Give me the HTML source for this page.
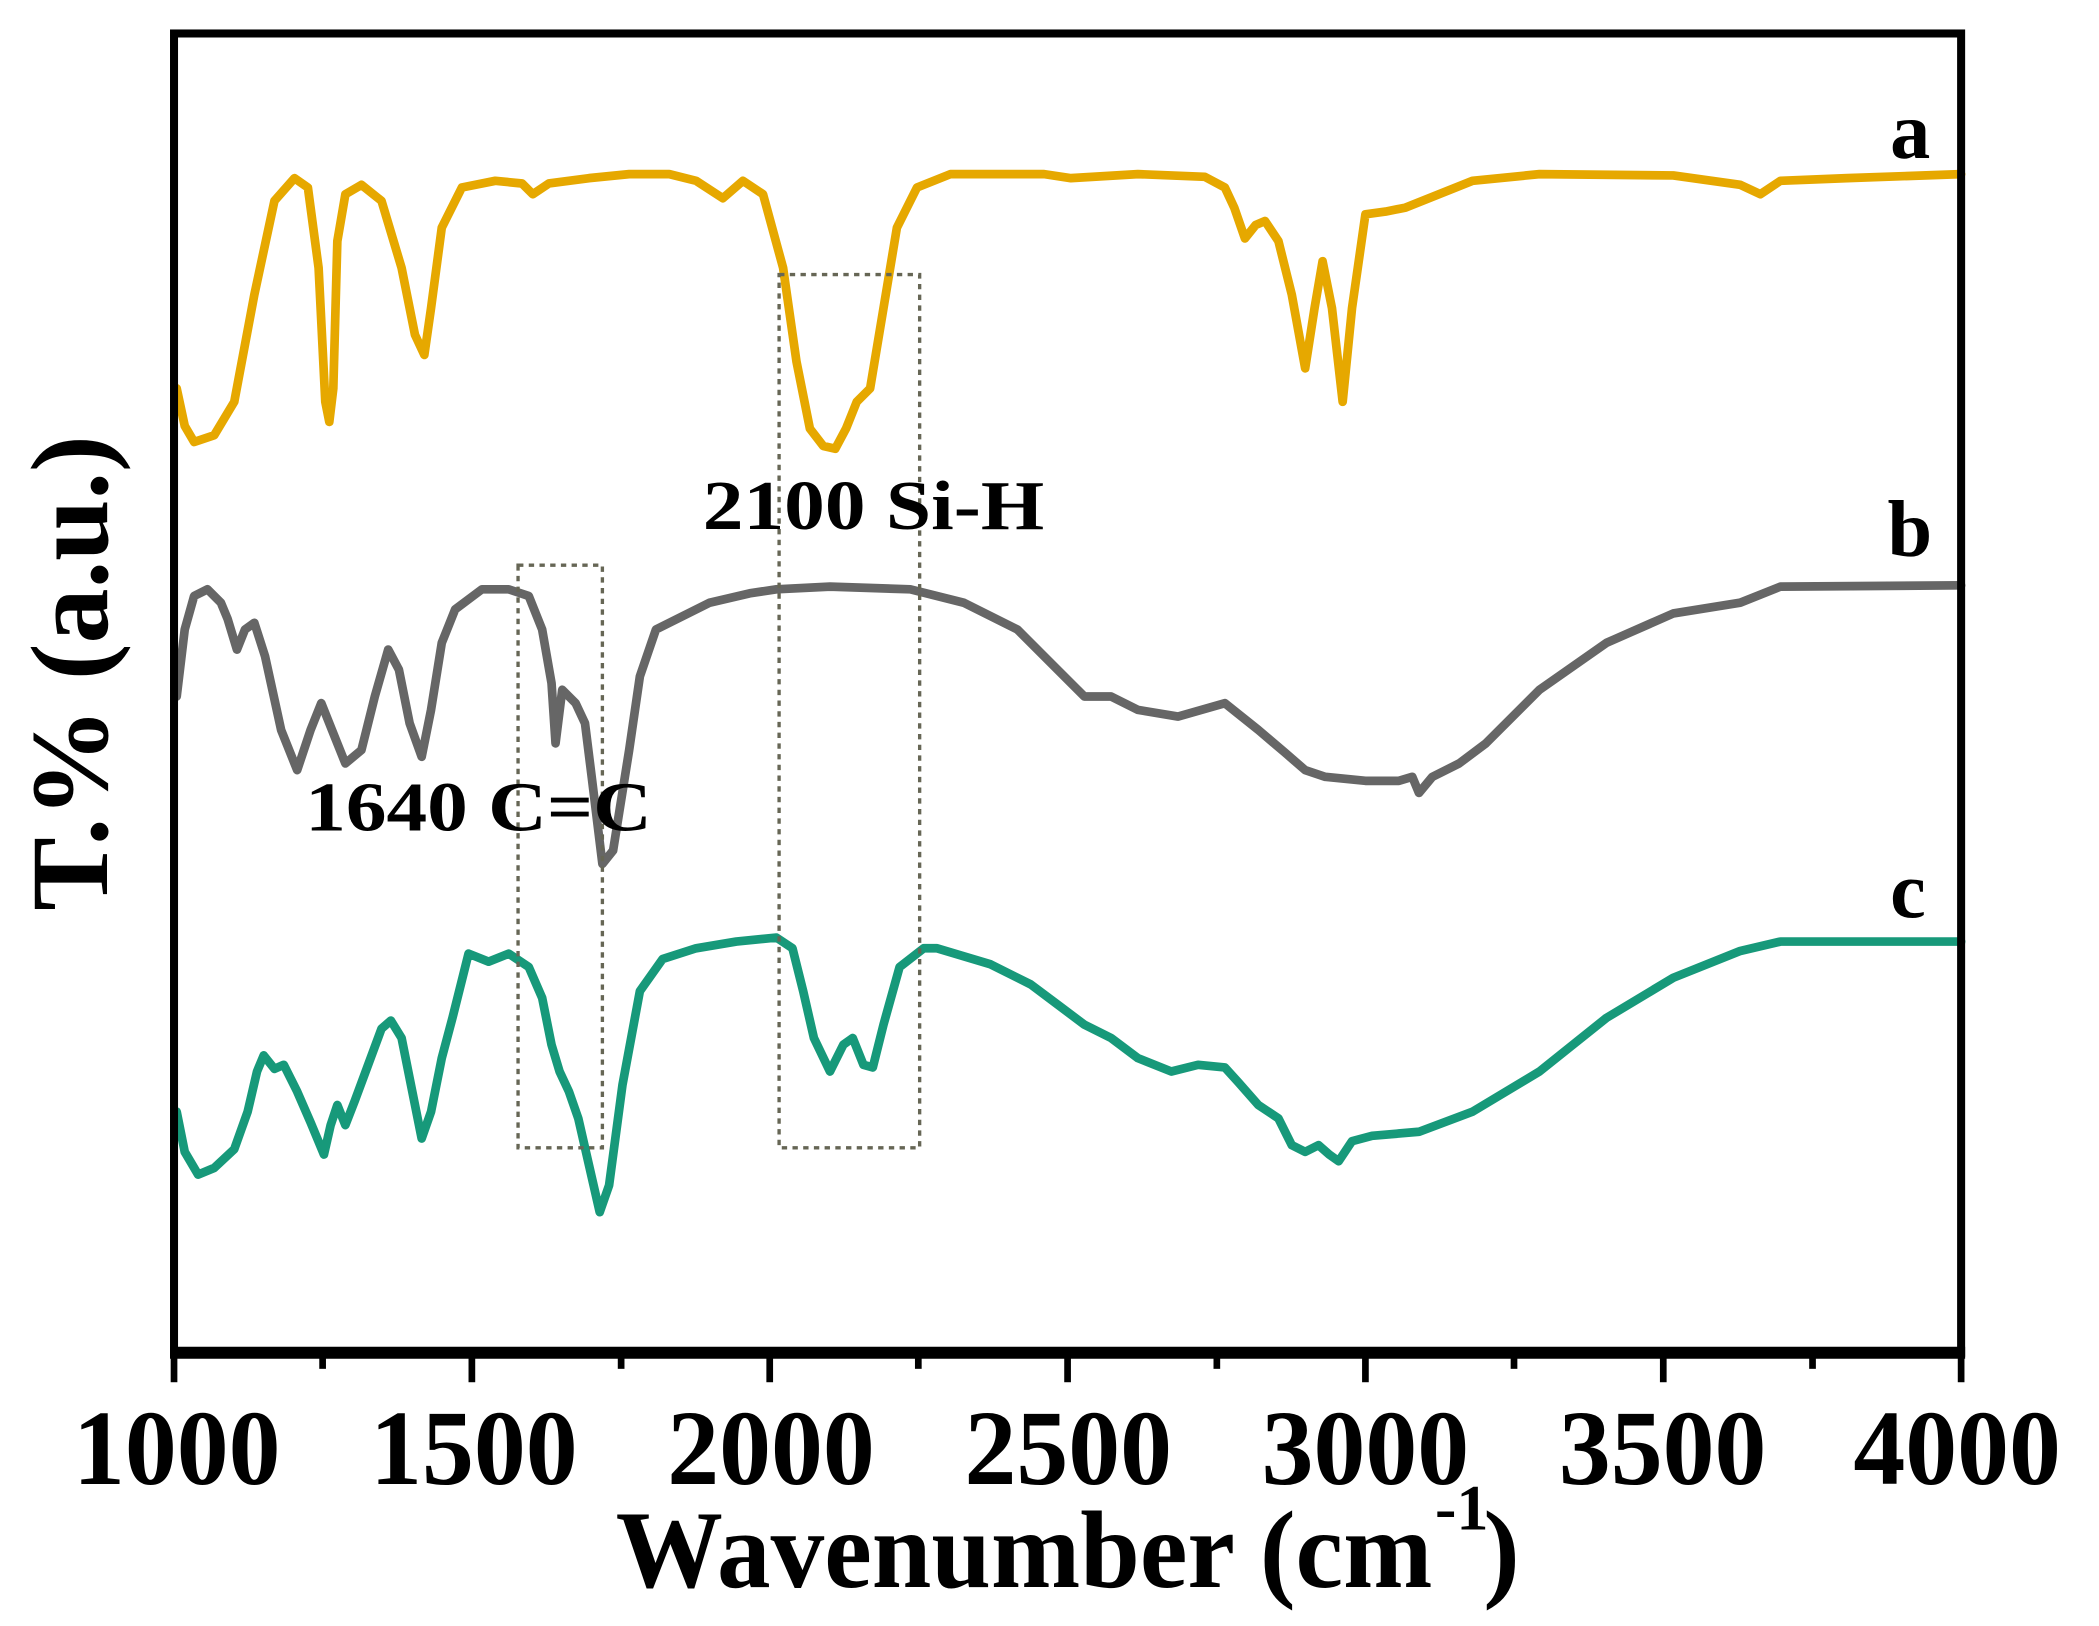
<!DOCTYPE html>
<html><head><meta charset="utf-8"><style>html,body{margin:0;padding:0;background:#fff}svg{display:block}</style></head>
<body>
<svg width="2099" height="1626" viewBox="0 0 1568 1214" preserveAspectRatio="none" xmlns="http://www.w3.org/2000/svg">
<rect width="1568" height="1214" fill="#fff"/>
<g fill="none" stroke-linejoin="round" stroke-linecap="round" stroke-width="6.5">
<polyline stroke="#E6A800" points="132,290 138,318 145,330 160,325 175,300 190,220 205,150 220,133 230,140 238,200 243,300 246,315 249,290 252,180 258,145 270,138 285,150 300,200 310,250 317,265 322,230 330,170 345,140 370,135 390,137 398,145 410,137 440,133 470,130 500,130 520,135 540,148 555,135 570,145 585,200 595,270 605,320 615,333 624,335 632,320 640,300 650,290 660,230 670,170 685,140 710,130 780,130 800,133 850,130 900,132 915,140 922,155 930,178 938,168 945,165 955,180 965,220 975,275 982,230 988,195 995,230 1003,300 1010,230 1020,160 1035,158 1050,155 1075,145 1100,135 1150,130 1250,131 1300,138 1315,145 1330,135 1380,133 1465,130"/>
<polyline stroke="#666666" points="132,520 138,470 145,445 155,440 165,450 170,462 177,485 183,470 190,465 198,490 210,545 222,575 232,545 240,525 248,545 258,570 270,560 280,520 290,485 298,500 306,540 315,565 322,530 330,480 340,455 360,440 380,440 395,445 405,470 412,510 415,555 420,515 430,525 437,540 442,580 450,645 458,635 462,610 470,560 478,505 490,470 510,460 530,450 560,443 580,440 620,438 680,440 720,450 760,470 790,500 810,520 830,520 850,530 880,535 915,525 940,545 960,562 975,575 990,580 1020,583 1045,583 1055,580 1060,592 1070,580 1090,570 1110,555 1150,515 1200,480 1250,458 1300,450 1330,438 1465,437"/>
<polyline stroke="#17997A" points="132,830 138,860 148,877 160,872 175,858 185,830 192,800 197,788 205,798 212,795 222,815 232,838 242,862 247,840 252,825 258,840 265,822 275,795 285,768 292,762 300,775 308,815 315,850 322,830 330,790 338,760 350,712 365,718 380,712 395,722 405,745 412,780 418,800 425,815 432,835 440,870 448,905 455,885 465,810 478,740 495,716 520,708 550,703 580,700 592,708 600,740 608,775 620,800 630,780 637,775 645,795 652,797 660,765 672,722 690,708 700,708 740,720 770,735 790,750 810,765 830,775 850,790 875,800 895,795 915,797 925,808 940,825 955,835 965,855 975,860 985,855 993,862 1000,867 1010,852 1025,848 1060,845 1100,830 1150,800 1200,760 1250,730 1300,710 1330,703 1465,703"/>
</g>
<g fill="none" stroke="#666655" stroke-width="2.5" stroke-dasharray="4,4">
<rect x="387" y="422" width="63" height="435"/>
<rect x="582" y="205" width="105" height="652"/>
</g>
<g stroke="#000" fill="none">
<rect x="130" y="25" width="1335" height="985" stroke-width="6"/>
<line x1="127" y1="1010" x2="1468" y2="1010" stroke-width="9"/>
<g stroke-width="5">
<line x1="130" y1="1010" x2="130" y2="1032"/><line x1="352.5" y1="1010" x2="352.5" y2="1032"/><line x1="575" y1="1010" x2="575" y2="1032"/><line x1="797.5" y1="1010" x2="797.5" y2="1032"/><line x1="1020" y1="1010" x2="1020" y2="1032"/><line x1="1242.5" y1="1010" x2="1242.5" y2="1032"/><line x1="1465" y1="1010" x2="1465" y2="1032"/>
<line x1="241" y1="1010" x2="241" y2="1022"/><line x1="464" y1="1010" x2="464" y2="1022"/><line x1="686" y1="1010" x2="686" y2="1022"/><line x1="909" y1="1010" x2="909" y2="1022"/><line x1="1131" y1="1010" x2="1131" y2="1022"/><line x1="1354" y1="1010" x2="1354" y2="1022"/>
</g></g>
<g font-family="'Liberation Serif',serif" font-weight="bold" fill="#000">
<g font-size="80" text-anchor="middle">
<text x="132" y="1108" textLength="155" lengthAdjust="spacingAndGlyphs">1000</text>
<text x="354" y="1108" textLength="155" lengthAdjust="spacingAndGlyphs">1500</text>
<text x="576" y="1108" textLength="155" lengthAdjust="spacingAndGlyphs">2000</text>
<text x="798" y="1108" textLength="155" lengthAdjust="spacingAndGlyphs">2500</text>
<text x="1020" y="1108" textLength="155" lengthAdjust="spacingAndGlyphs">3000</text>
<text x="1242" y="1108" textLength="155" lengthAdjust="spacingAndGlyphs">3500</text>
<text x="1462" y="1108" textLength="155" lengthAdjust="spacingAndGlyphs">4000</text>
</g>
<text x="460" y="1185" font-size="82" textLength="610" lengthAdjust="spacingAndGlyphs">Wavenumber (cm</text>
<text x="1072" y="1142" font-size="48">-1</text>
<text x="1108" y="1185" font-size="82">)</text>
<text transform="translate(80,680) rotate(-90)" font-size="82" textLength="355" lengthAdjust="spacingAndGlyphs">T.% (a.u.)</text>
<text x="525" y="395" font-size="52" textLength="255" lengthAdjust="spacingAndGlyphs">2100 Si-H</text>
<text x="228" y="620" font-size="52" textLength="259" lengthAdjust="spacingAndGlyphs">1640 C=C</text>
<text x="1412" y="118" font-size="60">a</text>
<text x="1410" y="415" font-size="60">b</text>
<text x="1412" y="685" font-size="60">c</text>
</g>
</svg>
</body></html>
